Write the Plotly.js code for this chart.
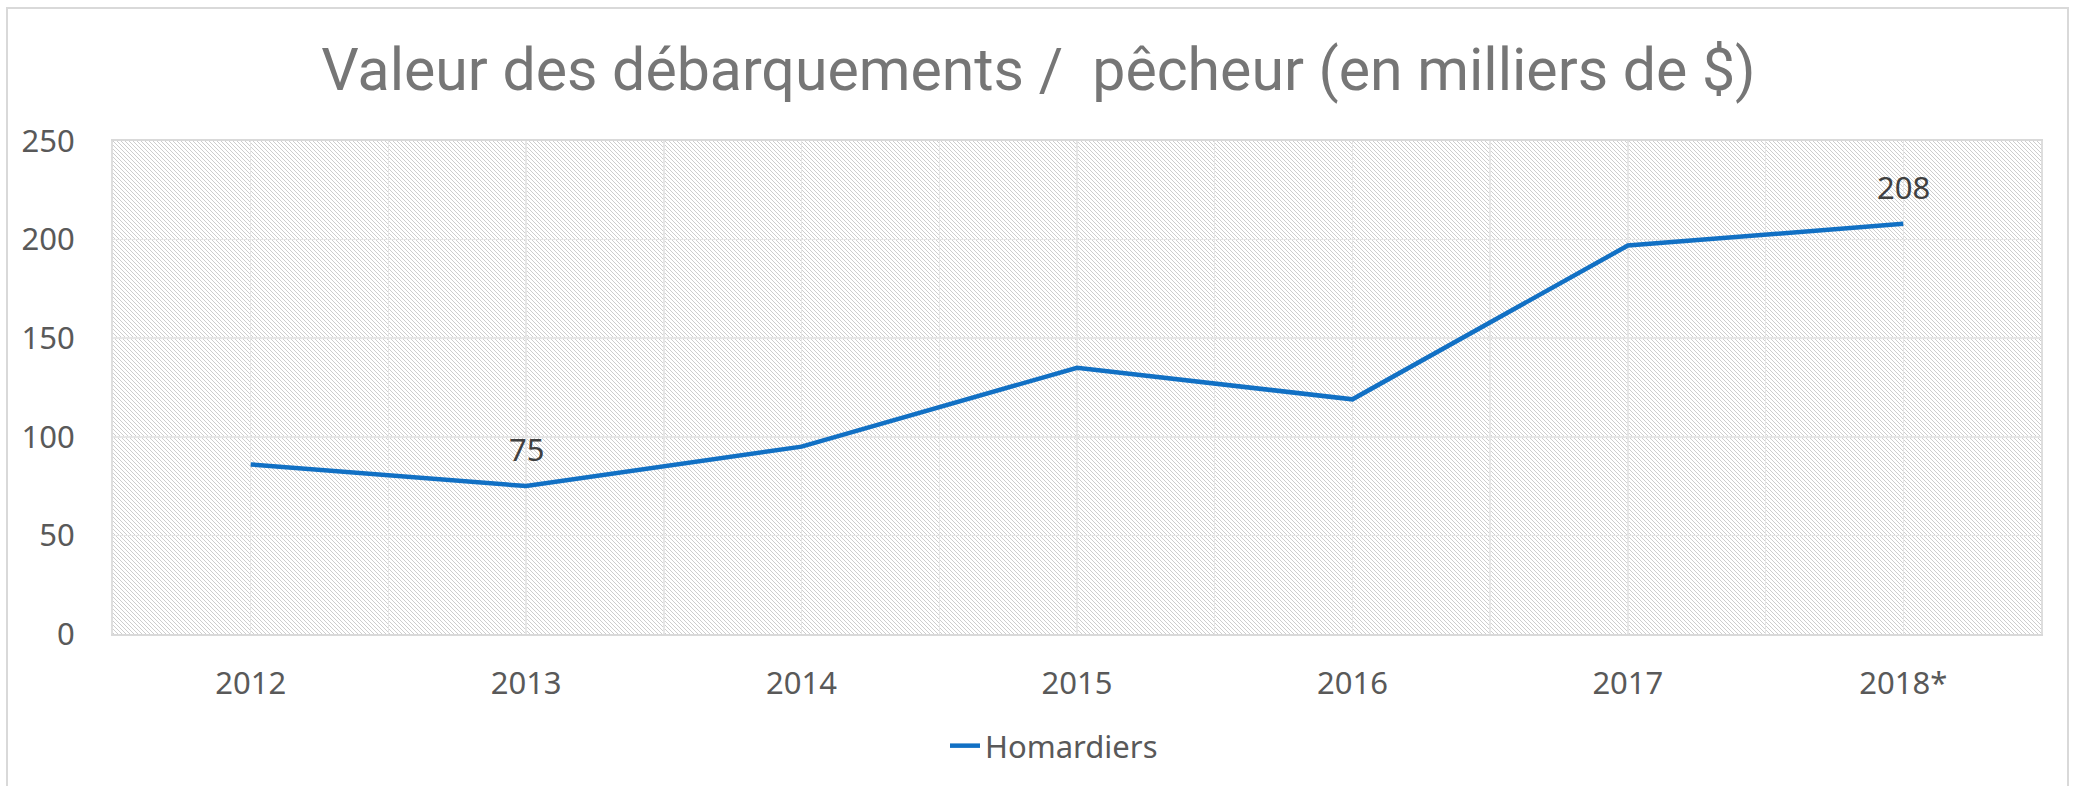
<!DOCTYPE html>
<html>
<head>
<meta charset="utf-8">
<script src="https://cdn.plot.ly/plotly-3.0.1.min.js"></script>
<style>
  html, body { margin: 0; padding: 0; background: #ffffff; }
  #wrap { position: relative; width: 2077px; height: 786px; overflow: hidden; }
  #frame { position: absolute; left: 6px; top: 7px; width: 2063px; height: 800px; border: 2px solid #d9d9d9; box-sizing: border-box; }
  #hatch { position: absolute; image-rendering: pixelated;
    background-image: url("data:image/svg+xml;utf8,<svg xmlns='http://www.w3.org/2000/svg' width='4' height='4' shape-rendering='crispEdges'><rect width='4' height='4' fill='%23ffffff'/><rect x='0' y='0' width='1' height='1' fill='%23cdcdcd'/><rect x='1' y='1' width='1' height='1' fill='%23cdcdcd'/><rect x='2' y='2' width='1' height='1' fill='%23cdcdcd'/><rect x='3' y='3' width='1' height='1' fill='%23cdcdcd'/></svg>");
    background-size: 4px 4px; background-repeat: repeat; }
  #chart { position: absolute; left: 0; top: 0; width: 2077px; height: 786px; }
</style>
</head>
<body>
<div id="wrap">
  <div id="frame"></div>
  <div id="hatch"></div>
  <div id="chart"></div>
</div>
<script>
const categories = ["2012", "2013", "2014", "2015", "2016", "2017", "2018*"];
const homardiers = [86, 75, 95, 135, 119, 197, 208];
const dataLabels = ["", "75", "", "", "", "", "208"];
const seriesName = "Homardiers";
const titleText = "Valeur des débarquements /  pêcheur (en milliers de $)";
const yTicks = [0, 50, 100, 150, 200, 250];

const idx = categories.map((c, i) => i);
const boundaries = categories.map((c, i) => i - 0.5).concat([categories.length - 0.5]);

const M = { l: 113, r: 36, t: 141, b: 152 };
const W = 2077, H = 786;

const font = "'Noto Sans', 'Open Sans', sans-serif";
const titleFont = "Roboto, 'Noto Sans', sans-serif";

const trace = {
  x: idx,
  y: homardiers,
  type: "scatter",
  mode: "lines",
  name: seriesName,
  line: { color: "#1170C4", width: 4.5 },
  hoverinfo: "skip"
};

const annotations = idx.filter(i => dataLabels[i] !== "").map(i => ({
  x: i, y: homardiers[i], xref: "x", yref: "y",
  text: dataLabels[i], showarrow: false, yshift: 37,
  font: { family: font, size: 31, color: "#404040" }
}));

const layout = {
  width: W, height: H,
  margin: M,
  paper_bgcolor: "rgba(0,0,0,0)",
  plot_bgcolor: "rgba(0,0,0,0)",
  title: {
    text: titleText,
    font: { family: titleFont, size: 59, color: "#767676" },
    x: 0.5, xanchor: "center",
    y: 1 - 69 / H, yref: "container", yanchor: "middle"
  },
  xaxis: {
    range: [-0.5, categories.length - 0.5],
    tickmode: "array", tickvals: idx, ticktext: categories,
    showgrid: true, gridcolor: "#e6e6e6", gridwidth: 1.5,
    minor: { tickmode: "array", tickvals: boundaries, showgrid: true, gridcolor: "#e6e6e6", gridwidth: 1.5, ticks: "" },
    showline: true, linecolor: "#d9d9d9", linewidth: 2, mirror: true,
    ticks: "", zeroline: false,
    ticklabelstandoff: 21,
    tickfont: { family: font, size: 31, color: "#595959" },
    fixedrange: true
  },
  yaxis: {
    range: [0, 250],
    tickmode: "array", tickvals: yTicks,
    showgrid: true, gridcolor: "#e6e6e6", gridwidth: 1.5,
    showline: true, linecolor: "#dedede", linewidth: 2, mirror: true,
    ticks: "", zeroline: false,
    ticklabelstandoff: 30,
    tickfont: { family: font, size: 31, color: "#595959" },
    fixedrange: true
  },
  showlegend: true,
  legend: {
    orientation: "h", x: 0.5 - 23 / (W - M.l - M.r), xanchor: "center",
    y: ((H - M.b) - 746) / (H - M.t - M.b), yanchor: "middle",
    font: { family: font, size: 31, color: "#595959" },
    bgcolor: "rgba(0,0,0,0)"
  },
  annotations: annotations
};

const hatch = document.getElementById("hatch");
hatch.style.left = M.l + "px";
hatch.style.top = M.t + "px";
hatch.style.width = (W - M.l - M.r) + "px";
hatch.style.height = (H - M.t - M.b) + "px";

Plotly.newPlot("chart", [trace], layout, { displayModeBar: false, staticPlot: true });
</script>
</body>
</html>
